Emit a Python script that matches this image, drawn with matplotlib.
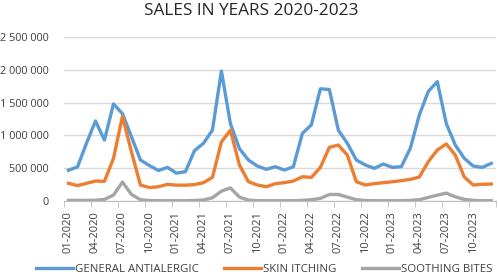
import numpy as np
import matplotlib
matplotlib.use("Agg")
import matplotlib.pyplot as plt
from matplotlib.ticker import FuncFormatter

plt.rcParams['font.family'] = ['Open Sans', 'DejaVu Sans']

# months 01-2020 .. 12-2023
months = [f"{m:02d}-{y}" for y in range(2020, 2024) for m in range(1, 13)]

general_antialergic = [
    470000, 520000, 880000, 1220000, 930000, 1480000, 1330000, 980000,
    625000, 540000, 465000, 513000, 425000, 447000, 767000, 879000,
    1080000, 1980000, 1180000, 800000, 625000, 533000, 483000, 523000,
    472000, 523000, 1030000, 1160000, 1710000, 1700000, 1080000, 880000,
    625000, 549000, 498000, 564000, 513000, 523000, 803000, 1310000,
    1670000, 1820000, 1180000, 853000, 651000, 533000, 513000, 574000,
]
skin_itching = [
    270000, 235000, 270000, 305000, 300000, 650000, 1290000, 750000,
    244000, 205000, 218000, 254000, 242000, 242000, 250000, 280000,
    360000, 900000, 1080000, 550000, 295000, 244000, 218000, 265000,
    280000, 305000, 370000, 360000, 513000, 818000, 853000, 700000,
    295000, 244000, 265000, 280000, 294000, 310000, 330000, 366000,
    600000, 777000, 870000, 700000, 366000, 244000, 254000, 260000,
]
soothing_bites = [
    10000, 10000, 10000, 12000, 25000, 90000, 290000, 100000,
    20000, 8000, 5000, 5000, 5000, 5000, 8000, 15000,
    50000, 150000, 200000, 60000, 15000, 5000, 5000, 5000,
    5000, 5000, 10000, 20000, 40000, 100000, 100000, 60000,
    20000, 8000, 5000, 5000, 5000, 5000, 10000, 20000,
    55000, 90000, 120000, 65000, 25000, 10000, 5000, 5000,
]

series = [
    ("GENERAL ANTIALERGIC", general_antialergic, "#5B9BD5"),
    ("SKIN ITCHING", skin_itching, "#ED7D31"),
    ("SOOTHING BITES", soothing_bites, "#A5A5A5"),
]

fig = plt.figure(figsize=(4.98, 2.8), dpi=100)
ax = fig.add_axes([0.1285, 0.282, 0.867, 0.586])

x = np.arange(len(months))
for name, vals, col in series:
    ax.plot(x, vals, color=col, lw=2.4, label=name, solid_joinstyle='round')

ax.set_xlim(-0.5, len(months) - 0.5)
ax.set_ylim(0, 2500000)
ax.set_yticks(np.arange(0, 2500001, 500000))
ax.yaxis.set_major_formatter(FuncFormatter(lambda v, p: f"{int(v):,}".replace(",", " ")))
ax.grid(axis='y', color='#D9D9D9', lw=1)
ax.set_axisbelow(True)

ax.set_xticks(x[::3])
ax.set_xticklabels(months[::3], rotation=90)
ax.set_xticks(np.arange(-0.5, len(months), 3), minor=True)
ax.tick_params(axis='x', which='major', length=0, pad=7, labelsize=8, labelcolor='#404040')
ax.tick_params(axis='x', which='minor', length=4, color='#BFBFBF')
ax.tick_params(axis='y', length=0, pad=11, labelsize=7.8, labelcolor='#404040')

for s in ['top', 'right', 'left']:
    ax.spines[s].set_visible(False)
ax.spines['bottom'].set_color('#BFBFBF')

fig.suptitle("SALES IN YEARS 2020-2023", x=0.505, y=0.99, fontsize=12.4, color='#262626')

fig.legend(loc='lower center', bbox_to_anchor=(0.53, -0.02), ncol=3, frameon=False,
           fontsize=8.2, handlelength=3.3, handletextpad=0.15, columnspacing=2.2,
           labelcolor='#404040')

fig.savefig("out.png", dpi=100)
